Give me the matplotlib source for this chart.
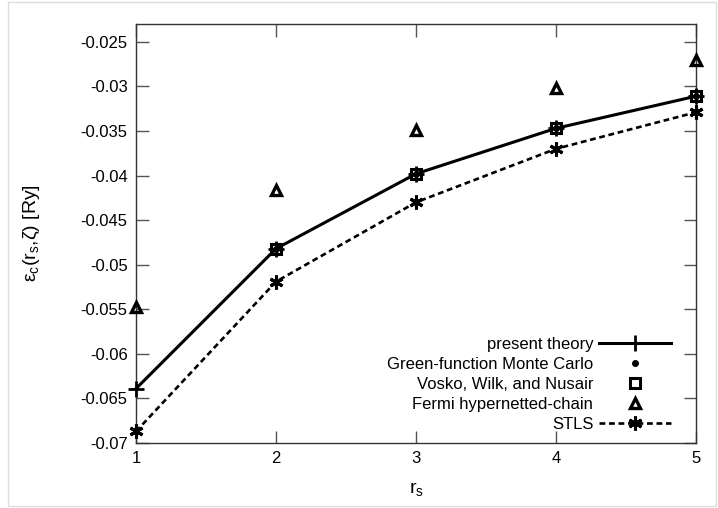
import numpy as np
import matplotlib.pyplot as plt
from matplotlib.patches import Rectangle

plt.rcParams['font.family'] = ['Liberation Sans', 'DejaVu Sans']
plt.rcParams['mathtext.default'] = 'regular'

# donnees
rs = [1, 2, 3, 4, 5]
present = [-0.0639, -0.0482, -0.0398, -0.0347, -0.0311]
gfmc = [np.nan, -0.0482, -0.0398, -0.0347, -0.0311]
vwn = [np.nan, -0.0482, -0.0398, -0.0347, -0.0311]
fhnc = [-0.0547, -0.0416, -0.0349, -0.0302, -0.0270]
stls = [-0.0687, -0.0519, -0.0430, -0.0370, -0.0329]

fig = plt.figure(figsize=(7.18, 5.08), dpi=100)
ax = fig.add_axes([136 / 718, 1 - 443 / 508, (696 - 136) / 718, (443 - 24) / 508])

ax.plot(rs, present, color='black', lw=2.2, marker='+', ms=11, mew=2,
        label='present theory', clip_on=False, zorder=5)
ax.plot(rs, gfmc, ls='none', color='black', marker='o', ms=4,
        label='Green-function Monte Carlo', clip_on=False, zorder=4)
ax.plot(rs, vwn, ls='none', color='black', marker='s', ms=7, mew=2.2,
        mfc='none', label='Vosko, Wilk, and Nusair', clip_on=False, zorder=4)
ax.plot(rs, fhnc, ls='none', color='black', marker='^', ms=7, mew=2.4,
        mfc='none', label='Fermi hypernetted-chain', clip_on=False, zorder=4)
ax.plot(rs, stls, color='black', lw=1.9, ls=(0, (2.2, 1.4)), marker=(6, 2, 0),
        ms=10, mew=2.2, label='STLS', clip_on=False, zorder=5)

ax.set_xlim(1, 5)
ax.set_ylim(-0.07, -0.023)
ax.set_xticks([1, 2, 3, 4, 5])
ax.set_yticks(np.arange(-0.07, -0.0249, 0.005))
ax.set_yticklabels(['-0.07', '-0.065', '-0.06', '-0.055', '-0.05', '-0.045',
                    '-0.04', '-0.035', '-0.03', '-0.025'])
ax.tick_params(direction='in', length=9, width=1, color='#555555',
               top=True, right=True, labelsize=12, pad=6)
for s in ax.spines.values():
    s.set_color('#333333')
    s.set_linewidth(1)

ax.set_xlabel('r$_s$', fontsize=14, labelpad=10)
ax.set_ylabel(r'ε$_c$(r$_s$,ζ) [Ry]', fontsize=14, labelpad=28)

leg = ax.legend(loc='lower right', bbox_to_anchor=(0.967, 0.01), frameon=False,
                markerfirst=False, fontsize=12, handlelength=4.3,
                handletextpad=0.35, labelspacing=0.3, borderaxespad=0)

fig.patches.append(Rectangle((8 / 718, 2 / 508), 708 / 718, 504 / 508,
                             transform=fig.transFigure, fill=False,
                             edgecolor='#dddddd', lw=1))

plt.savefig('out.png', dpi=100)
